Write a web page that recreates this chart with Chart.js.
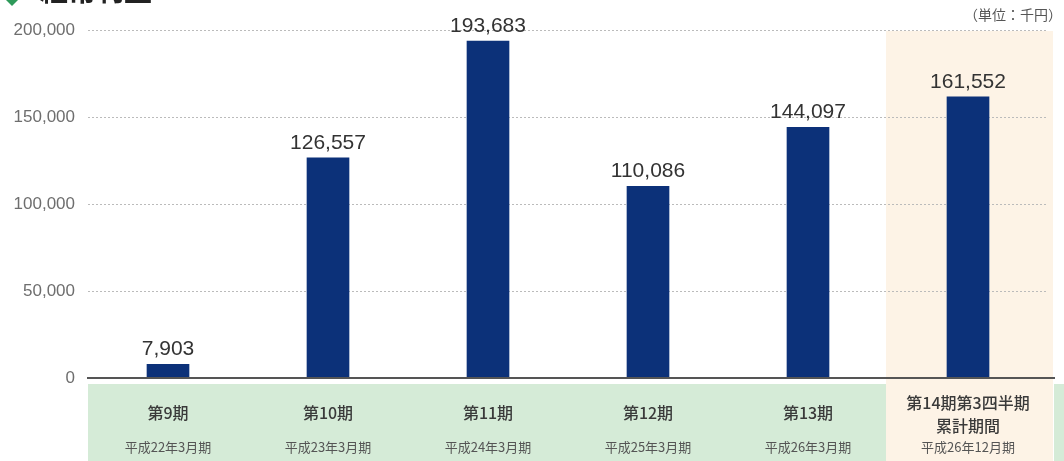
<!DOCTYPE html>
<html lang="ja">
<head>
<meta charset="utf-8">
<title>経常利益</title>
<script src="https://cdn.jsdelivr.net/npm/chart.js@4.4.1/dist/chart.umd.min.js"></script>
<style>
  html, body { margin: 0; padding: 0; background: #ffffff; }
  #wrap { position: relative; width: 1064px; height: 461px; }
</style>
</head>
<body>
<div id="wrap"><canvas id="chart" width="1064" height="461"></canvas></div>
<script>
// 経常利益（単位：千円）
const periods = ['第9期', '第10期', '第11期', '第12期', '第13期', ['第14期第3四半期', '累計期間']];
const periodDates = ['平成22年3月期', '平成23年3月期', '平成24年3月期', '平成25年3月期', '平成26年3月期', '平成26年12月期'];
const ordinaryIncome = [7903, 126557, 193683, 110086, 144097, 161552];
const yTickValues = [0, 50000, 100000, 150000, 200000];

const title = '経常利益';
const unitLabel = '（単位：千円）';

const fmt = v => v.toLocaleString('en-US');
const JP = '"Noto Sans CJK JP", "Noto Sans", sans-serif';
const NUM = '"Liberation Sans", Arial, sans-serif';

const decor = {
  id: 'decor',
  beforeDraw(chart) {
    const { ctx, chartArea, scales } = chart;
    const x = scales.x;
    const half = (x.getPixelForValue(1) - x.getPixelForValue(0)) / 2;
    const last = periods.length - 1;
    const oL = x.getPixelForValue(last) - half - 2;
    const oR = x.getPixelForValue(last) + half + 5;
    ctx.save();
    // highlighted cumulative period column
    ctx.fillStyle = '#fdf3e6';
    ctx.fillRect(oL, chartArea.top + 1, oR - oL, chart.height - chartArea.top);
    // category label band
    ctx.fillStyle = '#d5ebd7';
    ctx.fillRect(chartArea.left, chartArea.bottom + 6, oL - chartArea.left, chart.height);
    ctx.fillRect(oR + 1, chartArea.bottom + 6, chart.width, chart.height);
    ctx.restore();
  },
  afterDraw(chart) {
    const { ctx, chartArea, scales } = chart;
    const x = scales.x, y = scales.y;
    const half = (x.getPixelForValue(1) - x.getPixelForValue(0)) / 2;
    const last = periods.length - 1;
    ctx.save();
    // baseline
    ctx.strokeStyle = '#555555';
    ctx.lineWidth = 2;
    ctx.beginPath();
    ctx.moveTo(chartArea.left - 1, y.getPixelForValue(0));
    ctx.lineTo(x.getPixelForValue(last) + half + 7, y.getPixelForValue(0));
    ctx.stroke();

    // values above bars
    ctx.fillStyle = '#333333';
    ctx.font = '21px ' + NUM;
    ctx.textAlign = 'center';
    ctx.textBaseline = 'alphabetic';
    ordinaryIncome.forEach((v, i) => {
      ctx.fillText(fmt(v), x.getPixelForValue(i), y.getPixelForValue(v) - 9);
    });

    // category labels
    periods.forEach((p, i) => {
      const cx = x.getPixelForValue(i);
      ctx.textBaseline = 'middle';
      ctx.fillStyle = '#3a3a3a';
      ctx.font = '500 16px ' + JP;
      if (Array.isArray(p)) {
        ctx.fillText(p[0], cx, 403);
        ctx.fillText(p[1], cx, 426);
      } else {
        ctx.fillText(p, cx, 413);
      }
      ctx.fillStyle = '#555555';
      ctx.font = '13px ' + JP;
      ctx.fillText(periodDates[i], cx, 447);
    });

    // title (clipped at top edge) and unit
    ctx.fillStyle = '#2e9a5a';
    ctx.beginPath();
    ctx.moveTo(12, -6); ctx.lineTo(18, 0); ctx.lineTo(12, 6); ctx.lineTo(6, 0);
    ctx.closePath();
    ctx.fill();
    ctx.fillStyle = '#222222';
    ctx.font = 'bold 28px ' + JP;
    ctx.textAlign = 'left';
    ctx.textBaseline = 'alphabetic';
    ctx.fillText(title, 40, 1);

    ctx.fillStyle = '#555555';
    ctx.font = '14px ' + JP;
    ctx.textAlign = 'right';
    ctx.textBaseline = 'middle';
    ctx.fillText(unitLabel, 1062, 15);
    ctx.restore();
  }
};

new Chart(document.getElementById('chart'), {
  type: 'bar',
  data: {
    labels: periods,
    datasets: [{
      data: ordinaryIncome,
      backgroundColor: '#0c3179',
      barThickness: 42
    }]
  },
  options: {
    responsive: false,
    animation: false,
    layout: { padding: { top: 30, right: 16, bottom: 83, left: 0 } },
    plugins: { legend: { display: false }, tooltip: { enabled: false } },
    scales: {
      x: { display: false },
      y: {
        min: 0,
        max: 200000,
        afterFit(scale) { scale.width = 88; },
        afterBuildTicks(scale) { scale.ticks = yTickValues.map(v => ({ value: v })); },
        ticks: {
          color: '#6e6e6e',
          font: { family: NUM, size: 17 },
          padding: 13,
          callback: v => fmt(v)
        },
        grid: {
          drawTicks: false,
          color: ctx => (ctx.tick && ctx.tick.value === 0) ? 'rgba(0,0,0,0)' : '#bbbbbb',
          lineWidth: 1
        },
        border: { display: false, dash: [2, 2] }
      }
    }
  },
  plugins: [decor]
});
</script>
</body>
</html>
